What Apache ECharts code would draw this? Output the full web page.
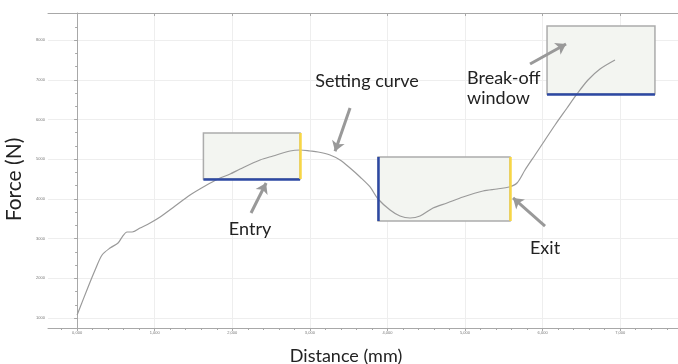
<!DOCTYPE html>
<html><head><meta charset="utf-8">
<script src="https://cdn.jsdelivr.net/npm/echarts@6/dist/echarts.min.js"></script>
<style>html,body{margin:0;padding:0;background:#fff}#c{width:678px;height:364px}</style>
</head><body><div id="c"></div>
<script>
// Curve values
const distance = [0,142,232,322,425,528,580,644,709,812,941,1070,1263,1456,1649,1817,1972,2101,2358,2526,2745,2874,3003,3106,3260,3389,3518,3647,3776,3879,4034,4162,4291,4420,4588,4768,4974,5232,5412,5567,5670,5773,5902,6031,6160,6315,6443,6585,6740,6933];
const force = [1076,1781,2209,2587,2763,2889,3040,3166,3166,3267,3393,3544,3821,4098,4325,4501,4627,4753,4980,5081,5207,5232,5207,5182,5106,4980,4778,4552,4300,3998,3721,3569,3519,3569,3771,3897,4048,4199,4250,4300,4401,4728,5106,5484,5862,6290,6643,6995,7272,7499];
// Tick labels
const xTicks = [0,1000,2000,3000,4000,5000,6000,7000];
const xTickLabels = ['0,000','1,000','2,000','3,000','4,000','5,000','6,000','7,000'];
const yTicks = [1000,2000,3000,4000,5000,6000,7000,8000];
const yTickLabels = ['1000','2000','3000','4000','5000','6000','7000','8000'];
// Windows (distance range, force range)
const entryX = [1628,2874], entryY = [4501,5660];
const exitX = [3879,5580], exitY = [3443,5056];
const breakX = [6057,7448], breakY = [6643,8355];
// Annotation texts and anchors [distance, force]
const labels = ['Setting curve','Entry','Exit','Break-off\nwindow'];
const labelAt = [[3737,6970],[2229,3242],[6031,2763],[5026,6794]];
const arrowFrom = [[3518,6290],[2242,3645],[6031,3317],[5838,7398]];
const arrowTo = [[3325,5200],[2436,4400],[5619,4023],[6302,7902]];

const X_MIN=-375, X_MAX=7745, Y_MIN=748, Y_MAX=8683;
const xMinor=[]; for(let v=-200; v<X_MAX; v+=200) xMinor.push(v);
const yMinor=[]; for(let i=0;i<=24;i++){const v=1000+i*1000/3-1000/3; if(v>Y_MIN&&v<Y_MAX) yMinor.push(Math.round(v));}

const FONT='Lato';
const AX='#a8a8a8';
const BLUE='#2d48a3', YEL='#f7d646';

const chart = echarts.init(document.getElementById('c'));
const seg=(a,b,c)=>[{coord:a,lineStyle:c},{coord:b}];
chart.setOption({
  animation:false,
  grid:{left:48,right:0,top:13,bottom:36,containLabel:false,outerBoundsMode:'none'},
  xAxis:[
    {type:'value',min:X_MIN,max:X_MAX,position:'bottom',
     name:'Distance (mm)',nameLocation:'middle',nameGap:19,
     nameTextStyle:{fontFamily:FONT,fontSize:18,color:'#222',padding:[0,34,0,0]},
     axisLine:{show:true,lineStyle:{color:AX,width:1}},
     axisTick:{show:true,length:3,customValues:xTicks,lineStyle:{color:AX}},
     axisLabel:{customValues:xTicks,formatter:v=>xTickLabels[xTicks.indexOf(v)],fontSize:4,color:'#777',margin:3},
     splitLine:{show:true,lineStyle:{color:'#eeeeee',width:1}}},
    {type:'value',min:X_MIN,max:X_MAX,position:'top',
     axisLine:{show:true,lineStyle:{color:AX,width:1}},
     axisTick:{show:true,inside:true,length:3,customValues:xTicks,lineStyle:{color:AX}},
     axisLabel:{show:false},splitLine:{show:false}},
    {type:'value',min:X_MIN,max:X_MAX,position:'bottom',
     axisLine:{show:false},axisTick:{show:true,length:2,customValues:xMinor,lineStyle:{color:AX}},
     axisLabel:{show:false},splitLine:{show:false}}
  ],
  yAxis:[
    {type:'value',min:Y_MIN,max:Y_MAX,
     name:'Force (N)',nameLocation:'middle',nameGap:21,
     nameTextStyle:{fontFamily:FONT,fontSize:21,color:'#222',padding:[0,18,0,0]},
     axisLine:{show:true,lineStyle:{color:AX,width:1}},
     axisTick:{show:true,length:3,customValues:yTicks,lineStyle:{color:AX}},
     axisLabel:{customValues:yTicks,formatter:v=>yTickLabels[yTicks.indexOf(v)],fontSize:4,color:'#777',margin:3},
     splitLine:{show:true,lineStyle:{color:'#eeeeee',width:1}}},
    {type:'value',min:Y_MIN,max:Y_MAX,position:'left',offset:0,
     axisLine:{show:false},axisTick:{show:true,length:2,customValues:yMinor,lineStyle:{color:AX}},
     axisLabel:{show:false},splitLine:{show:false}}
  ],
  series:[
    {type:'line',name:'boxes',data:[],silent:true,z:1,
     markArea:{silent:true,itemStyle:{color:'#f3f5f1',borderColor:'#acacac',borderWidth:1.5},
       data:[
        [{coord:[entryX[0],entryY[1]]},{coord:[entryX[1],entryY[0]]}],
        [{coord:[exitX[0],exitY[1]]},{coord:[exitX[1],exitY[0]]}],
        [{coord:[breakX[0],breakY[1]]},{coord:[breakX[1],breakY[0]]}]
       ]}},
    {type:'line',name:'curve',data:distance.map((d,i)=>[d,force[i]]),showSymbol:false,smooth:0.3,z:3,
     lineStyle:{color:'#9a9a9a',width:1.2},silent:true},
    {type:'line',name:'edges',data:[],silent:true,z:4,
     markLine:{silent:true,symbol:['none','none'],label:{show:false},
       data:[
        seg([entryX[0],entryY[0]],[entryX[1],entryY[0]],{color:BLUE,width:2.5,type:'solid'}),
        seg([entryX[1],entryY[0]],[entryX[1],entryY[1]],{color:YEL,width:2.5,type:'solid'}),
        seg([exitX[0],exitY[0]],[exitX[0],exitY[1]],{color:BLUE,width:2.5,type:'solid'}),
        seg([exitX[1],exitY[0]],[exitX[1],exitY[1]],{color:YEL,width:2.5,type:'solid'}),
        seg([breakX[0],breakY[0]],[breakX[1],breakY[0]],{color:BLUE,width:2.5,type:'solid'})
       ]}},
    {type:'line',name:'arrows',data:[],silent:true,z:5,
     markLine:{silent:true,symbol:['none','arrow'],symbolSize:[10,10],label:{show:false},
       lineStyle:{color:'#999',width:3,type:'solid'},
       data:arrowFrom.map((a,i)=>[{coord:a},{coord:arrowTo[i]}])}},
    {type:'line',name:'texts',data:[],silent:true,z:6,
     markPoint:{silent:true,symbol:'circle',symbolSize:0,
       data:labels.map((t,i)=>({coord:labelAt[i],value:t,
         label:{show:true,position:'inside',formatter:t,fontFamily:FONT,fontSize:18,color:'#222',lineHeight:20,
           align:i===3?'left':'center'}}))}}
  ]
});
</script></body></html>
